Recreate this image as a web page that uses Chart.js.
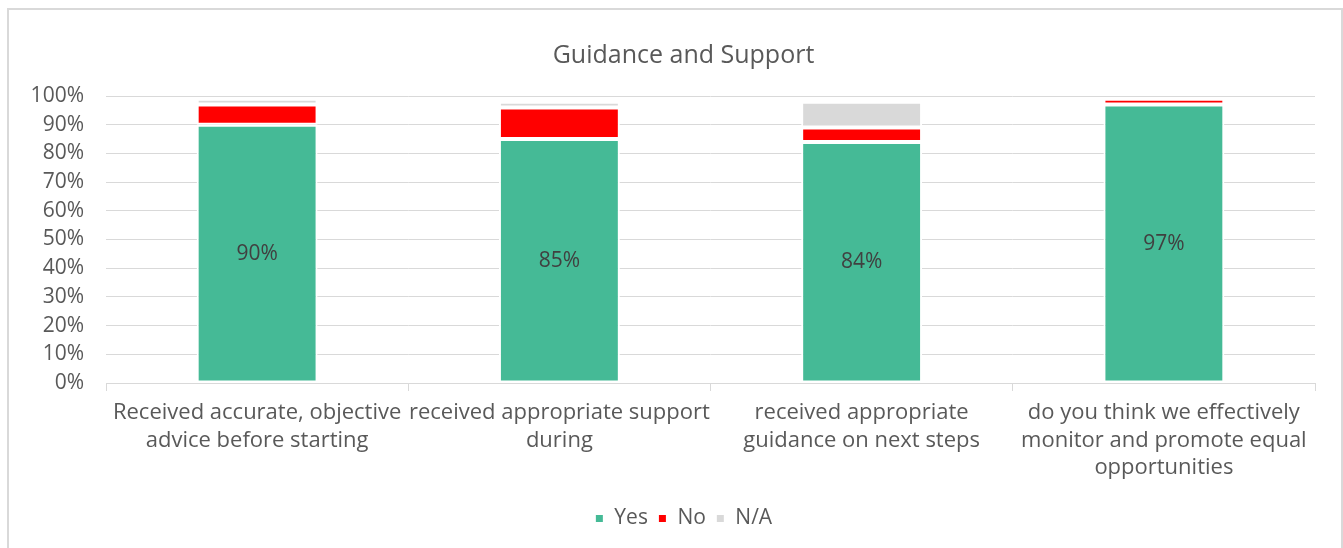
<!DOCTYPE html>
<html>
<head>
<meta charset="utf-8">
<script src="https://cdn.jsdelivr.net/npm/chart.js@4.4.1/dist/chart.umd.min.js"></script>
<style>
    html, body { margin: 0; padding: 0; background: #fff; }
    #wrap { position: relative; width: 1343px; height: 548px; }
</style>
</head>
<body>
<div id="wrap"><canvas id="guidanceChart" width="1343" height="548"></canvas></div>
<script>
// Survey categories (multi-line labels under each bar)
const categories = [
    ['Received accurate, objective', 'advice before starting'],
    ['received appropriate support', 'during'],
    ['received appropriate', 'guidance on next steps'],
    ['do you think we effectively', 'monitor and promote equal', 'opportunities']
];

// Share of responses per category
const yesValues = [0.90, 0.85, 0.84, 0.97];
const noValues = [0.07, 0.11, 0.05, 0.02];
const naValues = [0.02, 0.02, 0.09, 0];

const seriesNames = ['Yes', 'No', 'N/A'];
const yTicks = [0, 0.1, 0.2, 0.3, 0.4, 0.5, 0.6, 0.7, 0.8, 0.9, 1];

const FONT = '"Open Sans", "Liberation Sans", Arial, sans-serif';
const TEXT_COLOR = '#595959';
const GRID_COLOR = '#d9d9d9';

// Outer frame around the chart
const framePlugin = {
    id: 'frame',
    afterDraw(chart) {
        const ctx = chart.ctx;
        ctx.save();
        ctx.strokeStyle = GRID_COLOR;
        ctx.lineWidth = 2;
        ctx.strokeRect(8, 9, 1334, 560);
        ctx.restore();
    }
};

// Title and legend sit centred on the frame rather than the plot
const centerShiftPlugin = {
    id: 'centerShift',
    afterLayout(chart) {
        const shift = 26;
        [chart.titleBlock, chart.legend].forEach(box => {
            if (!box) return;
            box.left += shift;
            box.right += shift;
        });
    }
};

// Percent labels in the middle of the "Yes" bars
const yesLabelPlugin = {
    id: 'yesLabels',
    afterDatasetsDraw(chart) {
        const ctx = chart.ctx;
        const meta = chart.getDatasetMeta(0);
        ctx.save();
        ctx.font = '21px ' + FONT;
        ctx.fillStyle = '#404040';
        ctx.textAlign = 'center';
        ctx.textBaseline = 'middle';
        meta.data.forEach((bar, i) => {
            const { x, y, base } = bar.getProps(['x', 'y', 'base'], true);
            ctx.fillText(Math.round(yesValues[i] * 100) + '%', x, (y + base) / 2);
        });
        ctx.restore();
    }
};

const ctx = document.getElementById('guidanceChart').getContext('2d');
window.guidanceChart = new Chart(ctx, {
    type: 'bar',
    data: {
        labels: categories,
        datasets: [
            { label: seriesNames[0], data: yesValues, backgroundColor: '#45ba96' },
            { label: seriesNames[1], data: noValues, backgroundColor: '#ff0000' },
            { label: seriesNames[2], data: naValues, backgroundColor: '#d9d9d9' }
        ]
    },
    options: {
        responsive: false,
        animation: false,
        devicePixelRatio: 1,
        datasets: {
            bar: {
                borderColor: '#ffffff',
                borderWidth: 2,
                borderSkipped: false,
                categoryPercentage: 1,
                barPercentage: 0.4
            }
        },
        layout: {
            padding: { left: 0, right: 28, top: 0, bottom: 9 }
        },
        plugins: {
            title: {
                display: true,
                text: 'Guidance and Support',
                color: TEXT_COLOR,
                font: { family: FONT, size: 25, weight: 'normal' },
                padding: { top: 41, bottom: 25 }
            },
            legend: {
                position: 'bottom',
                labels: {
                    color: TEXT_COLOR,
                    font: { family: FONT, size: 21 },
                    usePointStyle: true,
                    pointStyle: 'rect',
                    boxWidth: 9,
                    boxHeight: 9,
                    padding: 10
                }
            },
            tooltip: { enabled: false }
        },
        scales: {
            x: {
                stacked: true,
                grid: {
                    drawOnChartArea: false,
                    drawTicks: true,
                    tickLength: 8,
                    color: GRID_COLOR,
                    offset: true
                },
                border: { display: true, color: GRID_COLOR, width: 1 },
                ticks: {
                    color: TEXT_COLOR,
                    font: { family: FONT, size: 22, lineHeight: 1.25 },
                    padding: 8,
                    maxRotation: 0,
                    autoSkip: false
                },
                afterFit(scale) {
                    scale.height = 115;
                }
            },
            y: {
                stacked: true,
                min: 0,
                max: 1,
                afterBuildTicks(scale) {
                    scale.ticks = yTicks.map(v => ({ value: v }));
                },
                grid: { color: GRID_COLOR, lineWidth: 1, drawTicks: false },
                border: { display: false },
                ticks: {
                    color: TEXT_COLOR,
                    font: { family: FONT, size: 21 },
                    padding: 22,
                    callback: v => Math.round(v * 100) + '%'
                },
                afterFit(scale) {
                    scale.width = 106;
                }
            }
        }
    },
    plugins: [framePlugin, centerShiftPlugin, yesLabelPlugin]
});
</script>
</body>
</html>
